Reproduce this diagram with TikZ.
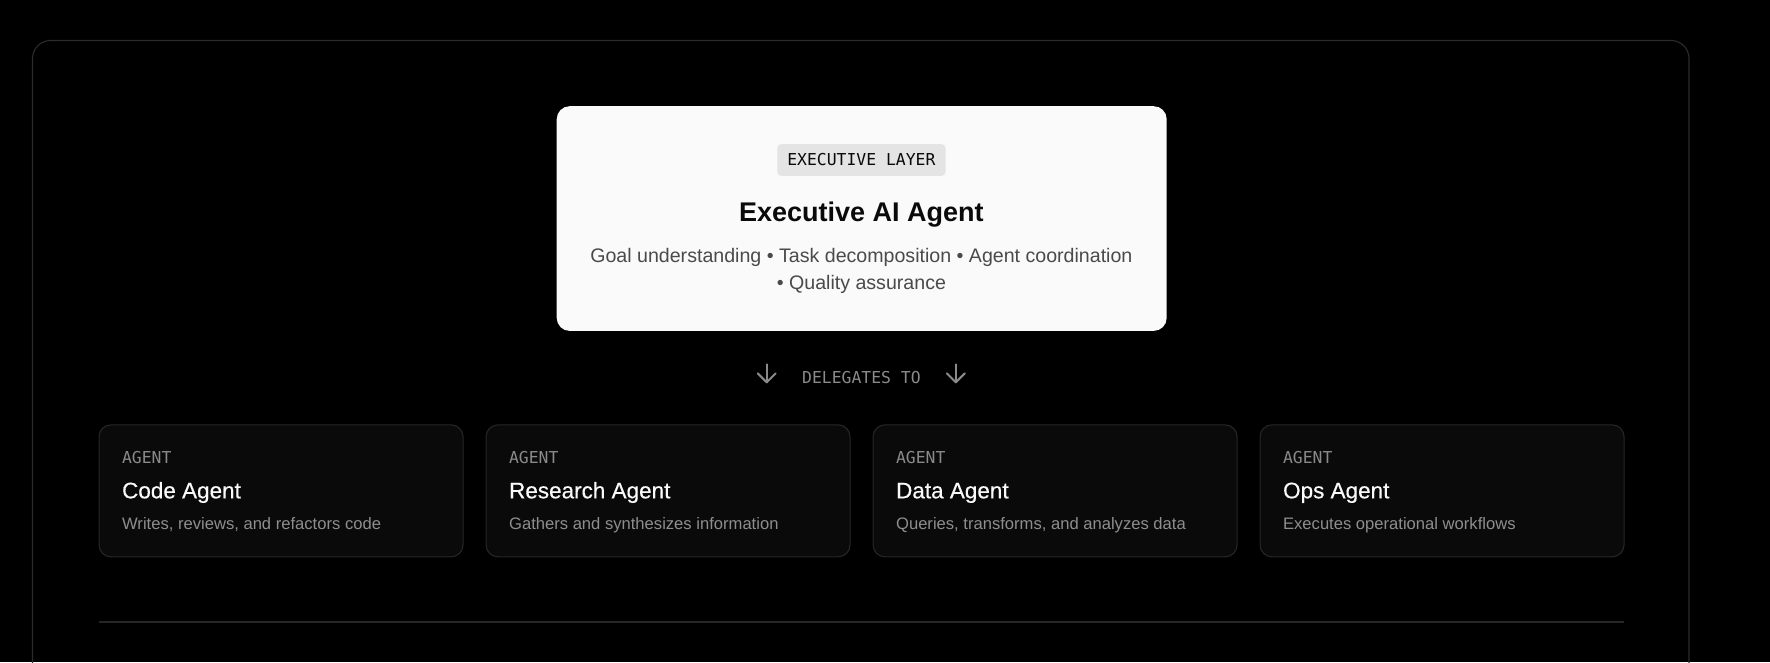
\documentclass[tikz,border=0pt]{standalone}
\usepackage{fontspec}
\setmainfont{Liberation Sans}
\newfontfamily\monof{DejaVu Sans Mono}
\newfontfamily\medf[FakeBold=0.45]{Liberation Sans}
\usetikzlibrary{calc}
\definecolor{framecol}{HTML}{2C2C2C}
\definecolor{cardfill}{HTML}{0A0A0A}
\definecolor{cardline}{HTML}{262626}
\definecolor{execfill}{HTML}{FAFAFA}
\definecolor{badgefill}{HTML}{E4E4E4}
\definecolor{darktext}{HTML}{0A0A0A}
\definecolor{desctext}{HTML}{4A4A4A}
\definecolor{graytext}{HTML}{8A8A8A}
\definecolor{carddesc}{HTML}{8E8E8E}
\definecolor{titletext}{HTML}{FAFAFA}
\tikzset{
  execbox/.style={fill=execfill, rounded corners=13pt, inner sep=0pt, minimum width=610pt, minimum height=224.7pt},
  badge/.style={fill=badgefill, rounded corners=4pt, inner sep=0pt, minimum width=168.2pt, minimum height=31.7pt, text=darktext, font=\monof\fontsize{16.4}{19}\selectfont},
  exectitle/.style={inner sep=0pt, text=darktext, font=\bfseries\fontsize{27}{32}\selectfont},
  execdesc/.style={inner sep=0pt, text=desctext, font=\fontsize{19.6}{23}\selectfont},
  delegate/.style={inner sep=0pt, text=graytext, font=\monof\fontsize{16.4}{19}\selectfont},
  arrowicon/.style={draw=graytext, line width=2pt, line cap=round, line join=round},
  card/.style={fill=cardfill, draw=cardline, line width=1.1pt, rounded corners=12pt, inner sep=0pt, minimum width=364pt, minimum height=132pt},
  agentlab/.style={inner sep=0pt, text=graytext, font=\monof\fontsize{16.4}{19}\selectfont},
  cardtitle/.style={inner sep=0pt, text=titletext, font=\medf\fontsize{22.5}{27}\selectfont},
  carddsc/.style={inner sep=0pt, text=carddesc, font=\fontsize{16.6}{20}\selectfont},
  sepline/.style={draw=cardline, line width=1.1pt},
  framebox/.style={draw=framecol, line width=1.1pt, rounded corners=18pt}
}
\begin{document}
\begin{tikzpicture}[x=1pt,y=-1pt]
\useasboundingbox (0,0) rectangle (1770,662);
\fill[black] (0,0) rectangle (1770,662);
\clip (0,0) rectangle (1770,662);
% outer frame
\draw[framebox] (32.5,40.5) rectangle (1689,720);
% executive box
\node[execbox, anchor=north west] (exec) at (556.5,106) {};
\node[badge] (badge) at (861.4,160) {EXECUTIVE LAYER};
\node[exectitle, anchor=base] (etitle) at (861.4,221) {Executive AI Agent};
\node[execdesc, anchor=base] (edesc1) at (861.4,262) {Goal understanding • Task decomposition • Agent coordination};
\node[execdesc, anchor=base] (edesc2) at (861.4,289) {• Quality assurance};
% delegates
\node[delegate, anchor=base] (deleg) at (861.4,383.3) {DELEGATES TO};
\coordinate (a1t) at (766.7,364.3);
\coordinate (a1b) at (766.7,382.3);
\coordinate (a2t) at (955.8,364.3);
\coordinate (a2b) at (955.8,382.3);
\draw[arrowicon] (a1t) -- (a1b);
\draw[arrowicon] ($(a1b)+(-9,-9)$) -- (a1b) -- ($(a1b)+(9,-9)$);
\draw[arrowicon] (a2t) -- (a2b);
\draw[arrowicon] ($(a2b)+(-9,-9)$) -- (a2b) -- ($(a2b)+(9,-9)$);
% cards
\node[card, anchor=north west] (c1) at (98.5,424.3) {};
\node[card, anchor=north west] (c2) at (485.5,424.3) {};
\node[card, anchor=north west] (c3) at (872.5,424.3) {};
\node[card, anchor=north west] (c4) at (1259.5,424.3) {};
\node[agentlab, anchor=base west] (c1l) at ($(c1.north west)+(23.4,39)$) {AGENT};
\node[cardtitle, anchor=base west] (c1t) at ($(c1.north west)+(23.4,74)$) {Code Agent};
\node[carddsc, anchor=base west] (c1d) at ($(c1.north west)+(23.4,104.7)$) {Writes, reviews, and refactors code};
\node[agentlab, anchor=base west] (c2l) at ($(c2.north west)+(23.4,39)$) {AGENT};
\node[cardtitle, anchor=base west] (c2t) at ($(c2.north west)+(23.4,74)$) {Research Agent};
\node[carddsc, anchor=base west] (c2d) at ($(c2.north west)+(23.4,104.7)$) {Gathers and synthesizes information};
\node[agentlab, anchor=base west] (c3l) at ($(c3.north west)+(23.4,39)$) {AGENT};
\node[cardtitle, anchor=base west] (c3t) at ($(c3.north west)+(23.4,74)$) {Data Agent};
\node[carddsc, anchor=base west] (c3d) at ($(c3.north west)+(23.4,104.7)$) {Queries, transforms, and analyzes data};
\node[agentlab, anchor=base west] (c4l) at ($(c4.north west)+(23.4,39)$) {AGENT};
\node[cardtitle, anchor=base west] (c4t) at ($(c4.north west)+(23.4,74)$) {Ops Agent};
\node[carddsc, anchor=base west] (c4d) at ($(c4.north west)+(23.4,104.7)$) {Executes operational workflows};
% separator
\coordinate (sepL) at (98.5,622);
\coordinate (sepR) at (1623.5,622);
\draw[sepline] (sepL) -- (sepR);
\end{tikzpicture}
\end{document}
